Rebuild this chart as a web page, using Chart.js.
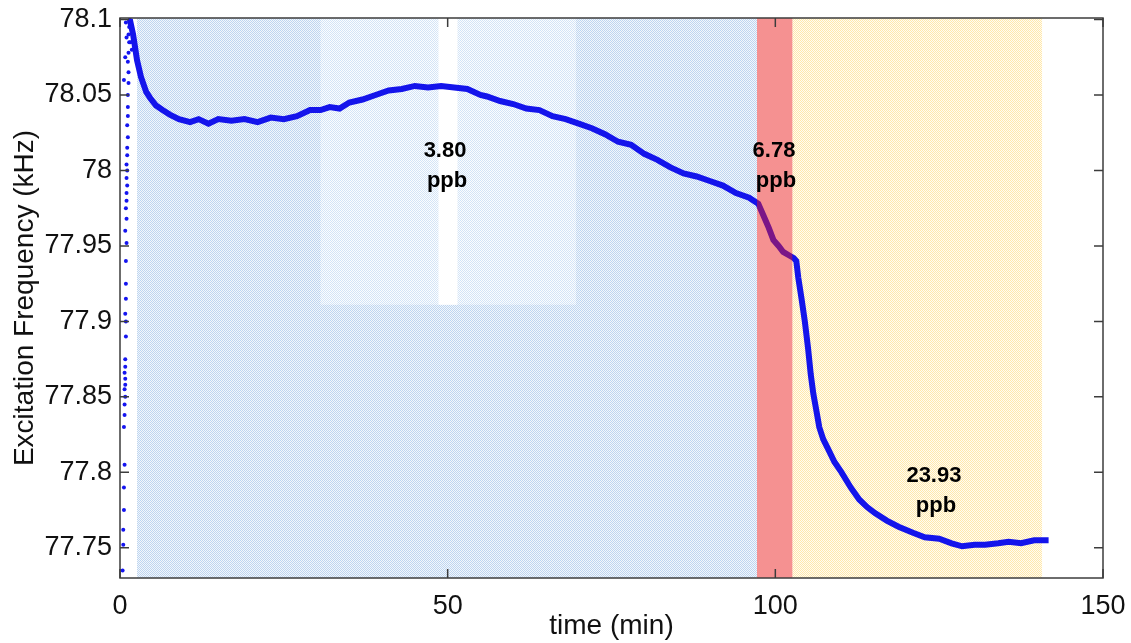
<!DOCTYPE html>
<html lang="en">
<head>
  <meta charset="UTF-8">
  <title>Excitation Frequency vs time</title>
  <script src="https://cdn.jsdelivr.net/npm/chart.js"></script>
  <style>
    body {
      margin: 0;
      background: #ffffff;
    }

    .chart-container {
      width: 1131px;
      height: 643px;
    }
  </style>
</head>
<body>

  <div class="chart-container">
    <canvas id="freqChart"></canvas>
  </div>

  <script>
    // main trace (min, kHz)
    const times = [1.5, 2.0, 2.6, 3.2, 4.0, 4.6, 5.5, 6.5, 7.6, 9, 10.7, 12, 13.5, 15, 17, 19, 21, 23, 25, 27, 29, 30.6,
      32, 33.5, 35, 37, 39, 41, 43, 45, 47, 49, 51, 53, 55, 56, 58, 60, 62, 64, 66, 68, 70, 72, 74, 76, 78, 80, 82, 84,
      86, 88, 90, 92, 94, 96, 97.4, 98.3, 99, 99.7, 100.5, 101.2, 102, 102.8, 103.2, 103.5, 104, 104.5, 105, 105.4,
      105.8, 106.3, 106.7, 107.3, 108.1, 109, 110.1, 111.5, 112.8, 114, 115.2, 117, 118.8, 121, 122.8, 125, 126.9,
      128.5, 130.4, 132, 134, 135.6, 137.5, 139.5, 141.7];
    const freqs = [78.1, 78.09, 78.073, 78.062, 78.052, 78.048, 78.043, 78.04, 78.037, 78.034, 78.032, 78.034, 78.031,
      78.034, 78.033, 78.034, 78.032, 78.035, 78.034, 78.036, 78.04, 78.04, 78.042, 78.041, 78.045, 78.047, 78.05,
      78.053, 78.054, 78.056, 78.055, 78.056, 78.055, 78.054, 78.05, 78.049, 78.046, 78.044, 78.041, 78.04, 78.036,
      78.034, 78.031, 78.028, 78.024, 78.019, 78.017, 78.011, 78.007, 78.002, 77.998, 77.996, 77.993, 77.99, 77.985,
      77.982, 77.978, 77.969, 77.962, 77.954, 77.95, 77.946, 77.944, 77.942, 77.94, 77.929, 77.915, 77.9, 77.882,
      77.865, 77.852, 77.84, 77.83, 77.822, 77.815, 77.807, 77.8, 77.79, 77.782, 77.777, 77.773, 77.768, 77.764,
      77.76, 77.757, 77.756, 77.753, 77.751, 77.752, 77.752, 77.753, 77.754, 77.753, 77.755, 77.755];

    // scattered start-up points
    const startTimes = [0.4, 0.5, 0.5, 0.6, 0.6, 0.7, 0.6, 0.7, 0.7, 0.8, 0.7, 0.8, 0.8, 0.7, 0.8, 0.8, 0.9, 0.9, 0.8,
      0.9, 0.9, 0.9, 1.0, 0.8, 1.0, 0.9, 1.0, 1.0, 1.1, 1.0, 1.1, 1.0, 1.1, 1.1, 1.2, 1.1, 1.2, 1.2, 1.2, 1.3, 1.3,
      1.2, 1.3, 1.4, 1.3, 1.4, 1.5, 0.6, 0.8, 1.0, 0.9, 1.6, 1.7, 1.8];
    const startFreqs = [77.735, 77.752, 77.762, 77.775, 77.79, 77.805, 77.83, 77.838, 77.845, 77.85, 77.855, 77.858,
      77.862, 77.866, 77.87, 77.875, 77.89, 77.9, 77.905, 77.915, 77.925, 77.94, 77.952, 77.96, 77.968, 77.975, 77.98,
      77.985, 77.99, 77.995, 78.0, 78.004, 78.01, 78.015, 78.022, 78.03, 78.036, 78.042, 78.05, 78.058, 78.065,
      78.072, 78.078, 78.085, 78.09, 78.095, 78.1, 78.06, 78.075, 78.088, 78.098, 78.085, 78.095, 78.08];

    const xTicks = [0, 50, 100, 150];
    const xTickLabels = ['0', '50', '100', '150'];
    const yTicks = [77.75, 77.8, 77.85, 77.9, 77.95, 78, 78.05, 78.1];
    const yTickLabels = ['77.75', '77.8', '77.85', '77.9', '77.95', '78', '78.05', '78.1'];

    // concentration bands (min)
    const bandStarts = [2.6, 97.2, 102.6];
    const bandEnds = [97.2, 102.6, 140.7];
    const bandNames = ['3.80 ppb', '6.78 ppb', '23.93 ppb'];
    const labelTimes = [49.6, 99.8, 124.2];
    const labelFreqs = [78.0126, 78.0126, 77.7974];

    function makePattern(ctx, dot, bg) {
      const c = document.createElement('canvas');
      c.width = 2; c.height = 2;
      const p = c.getContext('2d');
      p.fillStyle = bg; p.fillRect(0, 0, 2, 2);
      p.fillStyle = dot; p.fillRect(0, 0, 1, 1); p.fillRect(1, 1, 1, 1);
      return ctx.createPattern(c, 'repeat');
    }

    const bandsPlugin = {
      id: 'bands',
      beforeDatasetsDraw(chart) {
        const {ctx, chartArea: a, scales: {x, y}} = chart;
        ctx.save();
        ctx.beginPath();
        ctx.rect(a.left, a.top, a.width, a.height);
        ctx.clip();
        // blue (3.80 ppb)
        ctx.fillStyle = makePattern(ctx, 'rgb(190,213,240)', 'rgb(242,247,252)');
        ctx.fillRect(x.getPixelForValue(bandStarts[0]), a.top,
          x.getPixelForValue(bandEnds[0]) - x.getPixelForValue(bandStarts[0]), a.height);
        // paler patch in upper middle
        ctx.fillStyle = makePattern(ctx, 'rgb(212,228,246)', 'rgb(251,253,255)');
        ctx.fillRect(x.getPixelForValue(30.6), a.top,
          x.getPixelForValue(69.6) - x.getPixelForValue(30.6), y.getPixelForValue(77.911) - a.top);
        ctx.fillStyle = '#ffffff';
        ctx.fillRect(x.getPixelForValue(48.6), a.top,
          x.getPixelForValue(51.5) - x.getPixelForValue(48.6), y.getPixelForValue(77.911) - a.top);
        // yellow (23.93 ppb)
        ctx.fillStyle = makePattern(ctx, 'rgb(255,232,172)', 'rgb(255,252,242)');
        ctx.fillRect(x.getPixelForValue(bandStarts[2]), a.top,
          x.getPixelForValue(bandEnds[2]) - x.getPixelForValue(bandStarts[2]), a.height);
        ctx.restore();
      },
      afterDatasetsDraw(chart) {
        const {ctx, chartArea: a, scales: {x, y}} = chart;
        ctx.save();
        // red (6.78 ppb) lies over the trace
        ctx.fillStyle = 'rgba(235,25,25,0.48)';
        ctx.fillRect(x.getPixelForValue(bandStarts[1]), a.top,
          x.getPixelForValue(bandEnds[1]) - x.getPixelForValue(bandStarts[1]), a.height);

        ctx.fillStyle = '#000000';
        ctx.font = 'bold 22px "Liberation Sans", Arial, sans-serif';
        ctx.textAlign = 'center';
        ctx.textBaseline = 'middle';
        bandNames.forEach((name, i) => {
          const [num, unit] = name.split(' ');
          const px = x.getPixelForValue(labelTimes[i]);
          const py = y.getPixelForValue(labelFreqs[i]);
          ctx.fillText(num, px, py);
          ctx.fillText(unit, px + 2, py + 30);
        });

        // box and inward ticks
        ctx.strokeStyle = '#3c3c3c';
        ctx.lineWidth = 1.5;
        ctx.strokeRect(a.left, a.top, a.width, a.height);
        ctx.beginPath();
        xTicks.forEach(v => {
          const px = x.getPixelForValue(v);
          ctx.moveTo(px, a.bottom); ctx.lineTo(px, a.bottom - 9);
          ctx.moveTo(px, a.top); ctx.lineTo(px, a.top + 9);
        });
        yTicks.forEach(v => {
          const py = y.getPixelForValue(v);
          ctx.moveTo(a.left, py); ctx.lineTo(a.left + 9, py);
          ctx.moveTo(a.right, py); ctx.lineTo(a.right - 9, py);
        });
        ctx.stroke();
        ctx.restore();
      }
    };

    const tickFont = { family: '"Liberation Sans", Arial, sans-serif', size: 27 };
    const titleFont = { family: '"Liberation Sans", Arial, sans-serif', size: 28 };

    new Chart(document.getElementById('freqChart'), {
      type: 'scatter',
      data: {
        datasets: [{
          label: 'start-up',
          data: startTimes.map((t, i) => ({ x: t, y: startFreqs[i] })),
          pointRadius: 2,
          pointBackgroundColor: 'rgb(20,20,240)',
          pointBorderWidth: 0,
          showLine: false
        }, {
          label: 'Excitation Frequency',
          data: times.map((t, i) => ({ x: t, y: freqs[i] })),
          showLine: true,
          borderColor: 'rgb(20,20,235)',
          borderWidth: 6,
          tension: 0,
          pointRadius: 0
        }]
      },
      options: {
        responsive: true,
        maintainAspectRatio: false,
        animation: false,
        layout: { padding: { top: 18, right: 28, left: 0, bottom: 0 } },
        plugins: {
          legend: { display: false },
          tooltip: { enabled: false }
        },
        scales: {
          x: {
            type: 'linear',
            min: 0,
            max: 150,
            afterBuildTicks: s => { s.ticks = xTicks.map(v => ({ value: v })); },
            afterFit: s => { s.height = 65; },
            grid: { display: false },
            border: { display: false },
            ticks: {
              color: '#111',
              font: tickFont,
              padding: 4,
              maxRotation: 0,
              callback: (v, i) => xTickLabels[i]
            },
            title: {
              display: true,
              text: 'time (min)',
              color: '#111',
              font: titleFont,
              padding: 0
            }
          },
          y: {
            type: 'linear',
            min: 77.73,
            max: 78.101,
            afterBuildTicks: s => { s.ticks = yTicks.map(v => ({ value: v })); },
            afterFit: s => { s.width = 120; },
            grid: { display: false },
            border: { display: false },
            ticks: {
              color: '#111',
              font: tickFont,
              padding: 0,
              callback: (v, i) => yTickLabels[i]
            },
            title: {
              display: true,
              text: 'Excitation Frequency (kHz)',
              color: '#111',
              font: titleFont,
              padding: { top: 8, bottom: 0 }
            }
          }
        }
      },
      plugins: [bandsPlugin]
    });
  </script>

</body>
</html>
